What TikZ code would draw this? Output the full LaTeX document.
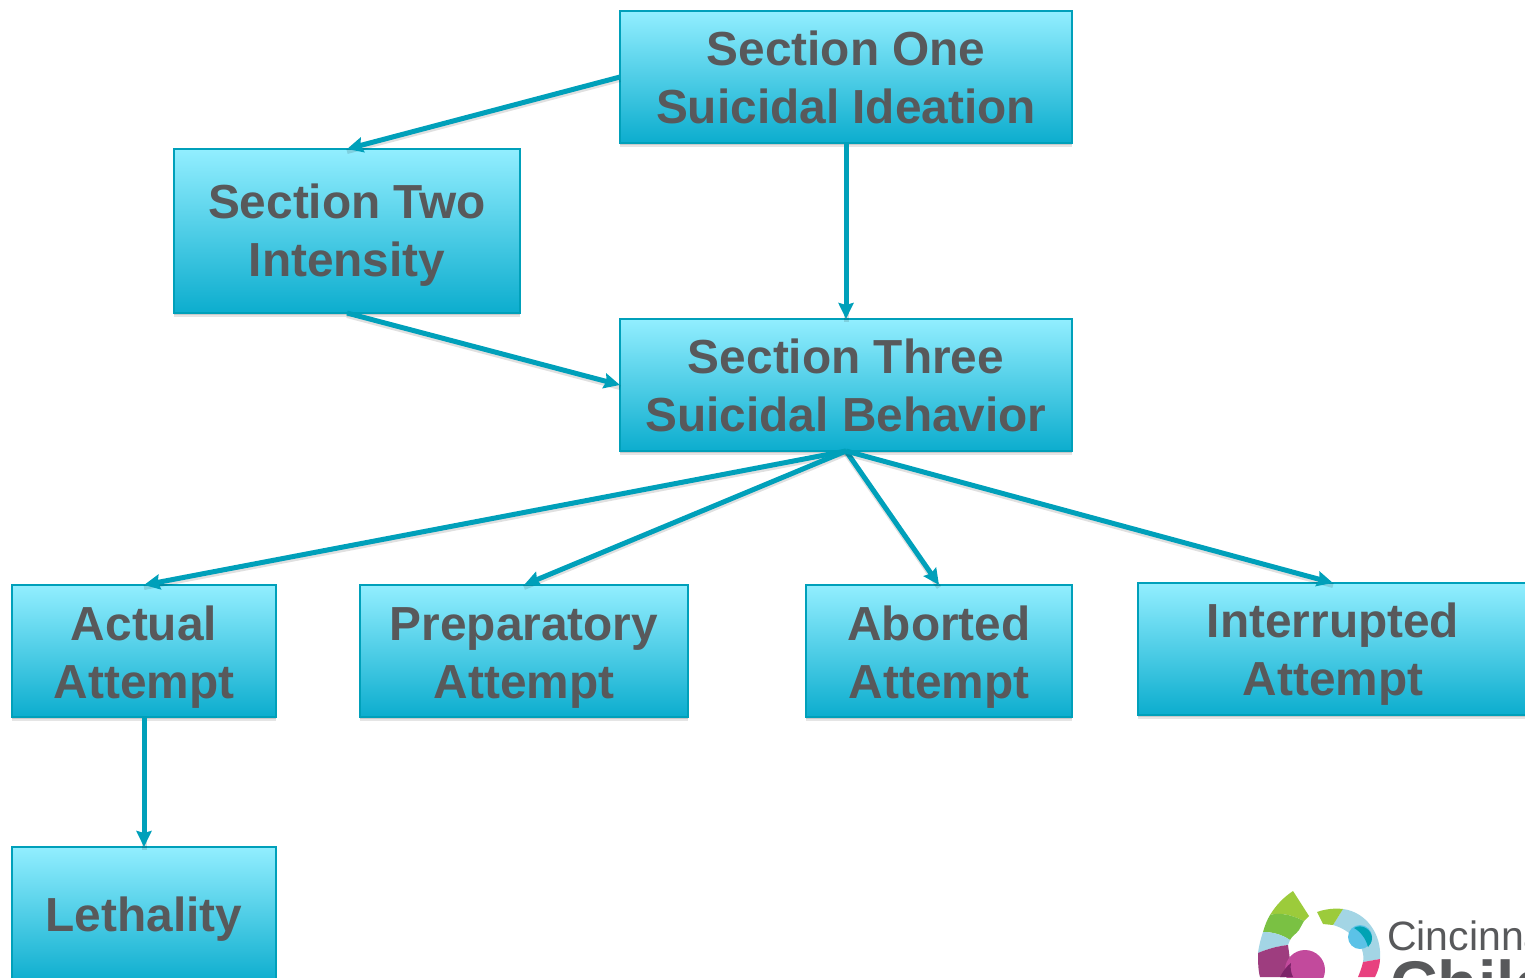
\documentclass[tikz,border=0pt]{standalone}
\usepackage{fontspec}
\setmainfont{Liberation Sans}
\usetikzlibrary{arrows.meta,shadows}
\definecolor{edgeteal}{HTML}{00A0BA}
\definecolor{boxtop}{HTML}{92EEFF}
\definecolor{boxbottom}{HTML}{0CADCE}
\definecolor{labelgrey}{HTML}{58595B}
\newcommand{\toppad}[1]{\rule{0pt}{#1pt}}
\tikzset{
  x=1pt,y=-1pt,
  sectionbox/.style={draw=edgeteal,line width=2pt,top color=boxtop,bottom color=boxbottom,
    text=labelgrey,font=\fontsize{47.8pt}{58pt}\selectfont\bfseries,align=center,
    inner sep=0pt,outer sep=0pt,
    preaction={draw=none,fill=black,fill opacity=.10,transform canvas={yshift=-4pt}},
    preaction={draw=none,fill=black,fill opacity=.12,transform canvas={yshift=-2pt}}},
  linkarrow/.style={draw=edgeteal,line width=5pt,
    -{Stealth[length=16pt,width=15pt,inset=2pt]},
    preaction={draw=black,draw opacity=.12,line width=5pt,-,transform canvas={yshift=-2.5pt}}},
}
\begin{document}
\begin{tikzpicture}
\useasboundingbox (0,0) rectangle (1525,977);
\clip (0,0) rectangle (1525,977);
% boxes
\node[sectionbox,minimum width=452pt,minimum height=132pt] (one) at (846,77) {Section One\\Suicidal Ideation};
\node[sectionbox,minimum width=346pt,minimum height=164pt] (two) at (347,231) {\toppad{43}Section Two\\Intensity};
\node[sectionbox,minimum width=452pt,minimum height=132pt] (three) at (846,385) {Section Three\\Suicidal Behavior};
\node[sectionbox,minimum width=264pt,minimum height=132pt] (actual) at (144,651) {\toppad{47}Actual\\Attempt};
\node[sectionbox,minimum width=328pt,minimum height=132pt] (prep) at (524,651) {\toppad{47}Preparatory\\Attempt};
\node[sectionbox,minimum width=266pt,minimum height=132pt] (aborted) at (939,651) {\toppad{47}Aborted\\Attempt};
\node[sectionbox,minimum width=390pt,minimum height=132pt] (inter) at (1333,649) {\toppad{45}Interrupted\\Attempt};
\node[sectionbox,minimum width=264pt,minimum height=136pt] (leth) at (144,915) {\toppad{43}Lethality};
% connectors
\draw[linkarrow] (one.west) -- (two.north);
\draw[linkarrow] (one.south) -- (three.north);
\draw[linkarrow] (two.south) -- (three.west);
\draw[linkarrow] (three.south) -- (actual.north);
\draw[linkarrow] (three.south) -- (prep.north);
\draw[linkarrow] (three.south) -- (aborted.north);
\draw[linkarrow] (three.south) -- (inter.north);
\draw[linkarrow] (actual.south) -- (leth.north);
% logo
\fill[color={rgb,255:red,156;green,203;blue,59}] (1293,891) -- (1309,916) -- (1304,921) .. controls (1292,915) and (1280,912) .. (1270,915) .. controls (1276,905) and (1284,897) .. (1293,891) -- cycle;
\fill[color={rgb,255:red,122;green,193;blue,67}] (1270,915) .. controls (1280,912) and (1292,915) .. (1304,921) -- (1299,930) .. controls (1296,934) and (1292,936) .. (1290,940) .. controls (1281,934) and (1272,932) .. (1263,932) .. controls (1265,925) and (1267,920) .. (1270,915) -- cycle;
\fill[color={rgb,255:red,163;green,213;blue,229}] (1263,932) .. controls (1272,932) and (1281,934) .. (1290,940) -- (1288,945) .. controls (1278,946) and (1267,949) .. (1258,953) .. controls (1259,945) and (1261,938) .. (1263,932) -- cycle;
\fill[color={rgb,255:red,158;green,61;blue,127}] (1258,953) .. controls (1267,949) and (1278,946) .. (1288,945) -- (1290,960) -- (1285,977) -- (1260,977) .. controls (1258,970) and (1258,960) .. (1258,953) -- cycle;
\fill[color={rgb,255:red,194;green,74;blue,156}] (1305,970) circle (20);
\fill[color={rgb,255:red,125;green,35;blue,105}] (1280,977) .. controls (1283,971) and (1287,966) .. (1291,963) .. controls (1290,968) and (1291,973) .. (1293,977) -- cycle;
\fill[color={rgb,255:red,163;green,213;blue,229}] (1343,909) .. controls (1366,912) and (1382,934) .. (1380,959) -- (1363,962) .. controls (1366,946) and (1351,930) .. (1333,925) -- cycle;
\fill[color={rgb,255:red,156;green,203;blue,59}] (1317,912) .. controls (1325,909) and (1335,908) .. (1343,909) -- (1333,925) -- (1323,924) -- cycle;
\fill[color={rgb,255:red,232;green,65;blue,127}] (1380,959) .. controls (1380,965) and (1378,971) .. (1375,977) -- (1358,977) .. controls (1360,972) and (1362,967) .. (1363,962) -- cycle;
\fill[color={rgb,255:red,91;green,194;blue,231}] (1360,937) circle (12);
\fill[color={rgb,255:red,0;green,163;blue,180}] (1354,928) .. controls (1362,923) and (1372,930) .. (1372,938) .. controls (1372,942) and (1370,945) .. (1368,947) .. controls (1366,939) and (1361,932) .. (1354,928) -- cycle;
\node[anchor=base west,inner sep=0pt,text=labelgrey,font=\fontsize{41pt}{41pt}\selectfont] (cin) at (1387,950) {Cincinnati};
\node[anchor=base west,inner sep=0pt,text=labelgrey,font=\fontsize{66pt}{66pt}\selectfont\bfseries] (chil) at (1390,1007) {Children's};
\end{tikzpicture}
\end{document}
